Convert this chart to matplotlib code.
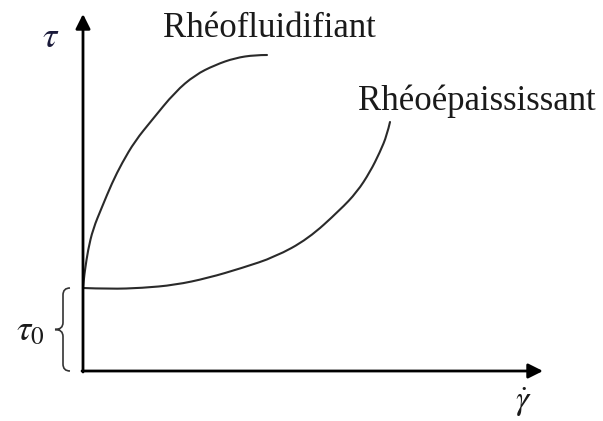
import matplotlib
matplotlib.use("Agg")
import matplotlib.pyplot as plt
from matplotlib.path import Path
from matplotlib.patches import PathPatch

plt.rcParams['mathtext.fontset'] = 'stix'

# Shear-thinning curve (Rhéofluidifiant): shear rate vs shear stress
fluid_x = [0, 1, 2, 5, 10, 19, 29, 39, 52, 69, 92, 112, 132, 152, 172, 184]
fluid_y = [83, 93, 101, 121, 142, 164, 188, 208, 230, 251, 279, 296, 306, 313, 316, 316]

# Shear-thickening curve (Rhéoépaississant)
thick_x = [0, 27, 59, 92, 125, 159, 192, 225, 257, 274, 287, 297, 304, 307]
thick_y = [83, 82, 83, 86, 93, 103, 114, 132, 161, 179, 199, 219, 236, 249]

tau0 = 83
labels = ["Rhéofluidifiant", "Rhéoépaississant"]

fig = plt.figure(figsize=(6.03, 4.21), dpi=100)
ax = fig.add_axes([0, 0, 1, 1])
ax.set_xlim(-83, 520)
ax.set_ylim(-50, 371)
ax.axis('off')


def smooth_curve(xs, ys):
    pts = list(zip(xs, ys))
    verts = [pts[0]]
    codes = [Path.MOVETO]
    for i in range(1, len(pts) - 1):
        mid = ((pts[i][0] + pts[i + 1][0]) / 2, (pts[i][1] + pts[i + 1][1]) / 2)
        if i == len(pts) - 2:
            mid = pts[-1]
        verts += [pts[i], mid]
        codes += [Path.CURVE3, Path.CURVE3]
    return Path(verts, codes)


# axes with arrows
ax.annotate('', xy=(0, 357), xytext=(0, -1),
            arrowprops=dict(arrowstyle='-|>', color='black', lw=2,
                            mutation_scale=22, shrinkA=0, shrinkB=0))
ax.annotate('', xy=(460, 0), xytext=(-1, 0),
            arrowprops=dict(arrowstyle='-|>', color='black', lw=2,
                            mutation_scale=22, shrinkA=0, shrinkB=0))

for xs, ys in [(fluid_x, fluid_y), (thick_x, thick_y)]:
    ax.add_patch(PathPatch(smooth_curve(xs, ys), fill=False,
                           edgecolor='#2a2a2a', lw=1.5, capstyle='round'))

# brace for tau0
xr, xm, xl = -13, -20, -28
yt, yb = tau0, 0
ymid = (yt + yb) / 2
r = 7
verts = [(xr, yt), (xm, yt), (xm, yt - r),
         (xm, ymid + r),
         (xm, ymid), (xl, ymid),
         (xm, ymid), (xm, ymid - r),
         (xm, yb + r),
         (xm, yb), (xr, yb)]
codes = [Path.MOVETO, Path.CURVE3, Path.CURVE3,
         Path.LINETO,
         Path.CURVE3, Path.CURVE3,
         Path.CURVE3, Path.CURVE3,
         Path.LINETO,
         Path.CURVE3, Path.CURVE3]
ax.add_patch(PathPatch(Path(verts, codes), fill=False, edgecolor='#333333', lw=1.2))

ax.text(-32, 334, r'$\tau$', fontsize=26, ha='center', va='center', color='#1a1a3a')
ax.text(-53, 41, r'$\tau_{\mathrm{0}}$', fontsize=26, ha='center', va='center', color='#1a1a1a')
ax.text(440, -31, r'$\dot{\gamma}$', fontsize=24, ha='center', va='center', color='#1a1a1a')

ax.text(80, 334, labels[0], fontsize=25, family='Liberation Serif',
        ha='left', va='baseline', color='#1a1a1a')
ax.text(275, 261, labels[1], fontsize=25, family='Liberation Serif',
        ha='left', va='baseline', color='#1a1a1a')

fig.savefig('out.png', dpi=100)
